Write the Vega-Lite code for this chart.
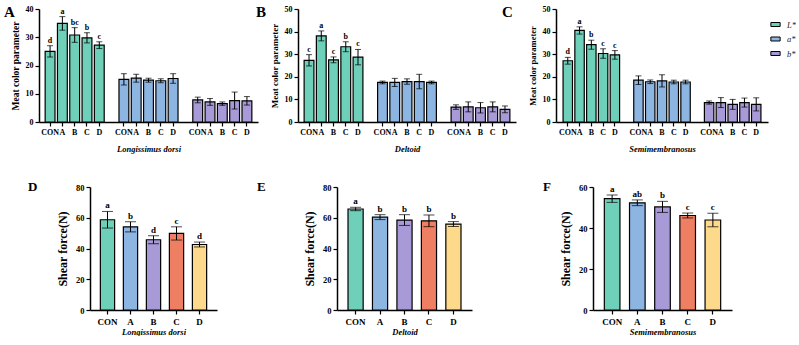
{
  "$schema": "https://vega.github.io/schema/vega-lite/v6.json",
  "background": "white",
  "padding": {"left": 4, "top": 5, "right": 0, "bottom": 0},
  "config": {
    "view": {"stroke": null},
    "font": "Liberation Serif",
    "axis": {
      "domainColor": "black", "domainWidth": 1.5,
      "tickColor": "black", "tickWidth": 1.2, "tickSize": 4,
      "labelFont": "Liberation Serif", "labelFontWeight": "bold", "labelColor": "black",
      "titleFont": "Liberation Serif", "titleFontWeight": "bold", "titleColor": "black",
      "grid": false
    },
    "title": {"font": "Liberation Serif", "fontWeight": "bold", "color": "black", "anchor": "start", "frame": "group", "offset": 0, "baseline": "alphabetic"}
  },
  "datasets": {
    "color": [
      {"muscle": "LD", "param": "L*", "trt": "CON", "mean": 25.0, "sd": 2.0, "sig": "d"},
      {"muscle": "LD", "param": "L*", "trt": "A", "mean": 34.9, "sd": 2.4, "sig": "a"},
      {"muscle": "LD", "param": "L*", "trt": "B", "mean": 30.8, "sd": 2.6, "sig": "bc"},
      {"muscle": "LD", "param": "L*", "trt": "C", "mean": 29.8, "sd": 1.8, "sig": "b"},
      {"muscle": "LD", "param": "L*", "trt": "D", "mean": 27.2, "sd": 1.2, "sig": "c"},
      {"muscle": "LD", "param": "a*", "trt": "CON", "mean": 15.1, "sd": 2.0, "sig": ""},
      {"muscle": "LD", "param": "a*", "trt": "A", "mean": 15.5, "sd": 1.4, "sig": ""},
      {"muscle": "LD", "param": "a*", "trt": "B", "mean": 14.8, "sd": 0.7, "sig": ""},
      {"muscle": "LD", "param": "a*", "trt": "C", "mean": 14.6, "sd": 0.7, "sig": ""},
      {"muscle": "LD", "param": "a*", "trt": "D", "mean": 15.4, "sd": 1.7, "sig": ""},
      {"muscle": "LD", "param": "b*", "trt": "CON", "mean": 7.8, "sd": 1.0, "sig": ""},
      {"muscle": "LD", "param": "b*", "trt": "A", "mean": 7.1, "sd": 1.2, "sig": ""},
      {"muscle": "LD", "param": "b*", "trt": "B", "mean": 6.5, "sd": 0.6, "sig": ""},
      {"muscle": "LD", "param": "b*", "trt": "C", "mean": 7.6, "sd": 3.0, "sig": ""},
      {"muscle": "LD", "param": "b*", "trt": "D", "mean": 7.5, "sd": 1.5, "sig": ""},
      {"muscle": "DE", "param": "L*", "trt": "CON", "mean": 27.3, "sd": 2.5, "sig": "c"},
      {"muscle": "DE", "param": "L*", "trt": "A", "mean": 38.1, "sd": 2.2, "sig": "a"},
      {"muscle": "DE", "param": "L*", "trt": "B", "mean": 27.5, "sd": 1.3, "sig": "c"},
      {"muscle": "DE", "param": "L*", "trt": "C", "mean": 33.3, "sd": 2.2, "sig": "b"},
      {"muscle": "DE", "param": "L*", "trt": "D", "mean": 28.7, "sd": 3.4, "sig": "c"},
      {"muscle": "DE", "param": "a*", "trt": "CON", "mean": 17.5, "sd": 0.6, "sig": ""},
      {"muscle": "DE", "param": "a*", "trt": "A", "mean": 17.5, "sd": 1.8, "sig": ""},
      {"muscle": "DE", "param": "a*", "trt": "B", "mean": 17.9, "sd": 1.2, "sig": ""},
      {"muscle": "DE", "param": "a*", "trt": "C", "mean": 17.9, "sd": 3.2, "sig": ""},
      {"muscle": "DE", "param": "a*", "trt": "D", "mean": 17.5, "sd": 0.6, "sig": ""},
      {"muscle": "DE", "param": "b*", "trt": "CON", "mean": 6.6, "sd": 1.0, "sig": ""},
      {"muscle": "DE", "param": "b*", "trt": "A", "mean": 6.7, "sd": 2.2, "sig": ""},
      {"muscle": "DE", "param": "b*", "trt": "B", "mean": 6.3, "sd": 2.3, "sig": ""},
      {"muscle": "DE", "param": "b*", "trt": "C", "mean": 6.7, "sd": 2.2, "sig": ""},
      {"muscle": "DE", "param": "b*", "trt": "D", "mean": 5.6, "sd": 1.5, "sig": ""},
      {"muscle": "SM", "param": "L*", "trt": "CON", "mean": 27.1, "sd": 1.5, "sig": "d"},
      {"muscle": "SM", "param": "L*", "trt": "A", "mean": 40.5, "sd": 1.6, "sig": "a"},
      {"muscle": "SM", "param": "L*", "trt": "B", "mean": 34.2, "sd": 2.0, "sig": "b"},
      {"muscle": "SM", "param": "L*", "trt": "C", "mean": 30.3, "sd": 2.1, "sig": "c"},
      {"muscle": "SM", "param": "L*", "trt": "D", "mean": 29.7, "sd": 1.9, "sig": "c"},
      {"muscle": "SM", "param": "a*", "trt": "CON", "mean": 18.5, "sd": 1.9, "sig": ""},
      {"muscle": "SM", "param": "a*", "trt": "A", "mean": 17.8, "sd": 0.8, "sig": ""},
      {"muscle": "SM", "param": "a*", "trt": "B", "mean": 18.2, "sd": 2.7, "sig": ""},
      {"muscle": "SM", "param": "a*", "trt": "C", "mean": 17.7, "sd": 0.8, "sig": ""},
      {"muscle": "SM", "param": "a*", "trt": "D", "mean": 17.7, "sd": 0.8, "sig": ""},
      {"muscle": "SM", "param": "b*", "trt": "CON", "mean": 8.6, "sd": 0.7, "sig": ""},
      {"muscle": "SM", "param": "b*", "trt": "A", "mean": 8.6, "sd": 2.2, "sig": ""},
      {"muscle": "SM", "param": "b*", "trt": "B", "mean": 7.8, "sd": 2.2, "sig": ""},
      {"muscle": "SM", "param": "b*", "trt": "C", "mean": 8.6, "sd": 2.0, "sig": ""},
      {"muscle": "SM", "param": "b*", "trt": "D", "mean": 7.8, "sd": 2.9, "sig": ""}
    ],
    "shear": [
      {"muscle": "LD", "trt": "CON", "mean": 58.7, "sd": 5.4, "sig": "a"},
      {"muscle": "LD", "trt": "A", "mean": 54.1, "sd": 3.3, "sig": "b"},
      {"muscle": "LD", "trt": "B", "mean": 45.7, "sd": 2.6, "sig": "d"},
      {"muscle": "LD", "trt": "C", "mean": 49.8, "sd": 4.3, "sig": "c"},
      {"muscle": "LD", "trt": "D", "mean": 42.6, "sd": 1.6, "sig": "d"},
      {"muscle": "DE", "trt": "CON", "mean": 65.7, "sd": 1.1, "sig": "a"},
      {"muscle": "DE", "trt": "A", "mean": 60.4, "sd": 1.6, "sig": "b"},
      {"muscle": "DE", "trt": "B", "mean": 58.5, "sd": 3.5, "sig": "b"},
      {"muscle": "DE", "trt": "C", "mean": 58.0, "sd": 3.8, "sig": "b"},
      {"muscle": "DE", "trt": "D", "mean": 55.9, "sd": 1.6, "sig": "b"},
      {"muscle": "SM", "trt": "CON", "mean": 54.3, "sd": 1.8, "sig": "a"},
      {"muscle": "SM", "trt": "A", "mean": 52.3, "sd": 1.4, "sig": "ab"},
      {"muscle": "SM", "trt": "B", "mean": 50.3, "sd": 2.7, "sig": "b"},
      {"muscle": "SM", "trt": "C", "mean": 46.1, "sd": 1.2, "sig": "c"},
      {"muscle": "SM", "trt": "D", "mean": 43.9, "sd": 3.3, "sig": "c"}
    ]
  },
  "columns": 1,
  "spacing": 28,
  "concat": [
    {
      "hconcat": [
        {
          "title": {"text": "A", "fontSize": 15, "dx": -35, "dy": 19},
          "width": 219, "height": 113,
          "data": {"name": "color"},
          "transform": [
            {"filter": "datum.muscle === 'LD'"},
            {"calculate": "datum.param + '|' + datum.trt", "as": "slot"},
            {"calculate": "datum.mean + datum.sd", "as": "top"}
          ],
          "encoding": {
            "x": {"field": "slot", "type": "nominal",
              "scale": {"domain": ["L*|CON", "L*|A", "L*|B", "L*|C", "L*|D", "gap1", "a*|CON", "a*|A", "a*|B", "a*|C", "a*|D", "gap2", "b*|CON", "b*|A", "b*|B", "b*|C", "b*|D"], "paddingInner": 0.2, "paddingOuter": 0.5},
              "axis": {"title": "Longissimus dorsi", "titleFontStyle": "italic", "titleFontSize": 8.5, "titlePadding": 8,
                "labelExpr": "indexof(datum.value, '|') > 0 ? split(datum.value, '|')[1] : ''",
                "labelAngle": 0, "labelFontSize": 8, "labelPadding": 2,
                "tickOpacity": {"condition": {"test": "indexof(datum.value, '|') < 0", "value": 0}, "value": 1}}},
            "y": {"field": "mean", "type": "quantitative", "title": "Meat color parameter", "scale": {"domain": [0, 40]},
              "axis": {"values": [0, 10, 20, 30, 40], "labelFontSize": 8, "labelPadding": 2, "titleFontSize": 9.5, "titlePadding": 5}}
          },
          "layer": [
            {"mark": {"type": "bar", "stroke": "black", "strokeWidth": 1.2},
             "encoding": {
               "fill": {"field": "param", "type": "nominal", "scale": {"domain": ["L*", "a*", "b*"], "range": ["#6FD0B9", "#8DB5E1", "#A899D7"]}, "legend": null}
             }},
            {"mark": {"type": "errorbar", "ticks": {"size": 6}, "thickness": 1, "color": "black"},
             "encoding": {"yError": {"field": "sd"}}},
            {"transform": [{"filter": "datum.sig !== ''"}],
             "mark": {"type": "text", "font": "Liberation Serif", "fontWeight": "bold", "fontSize": 8, "baseline": "bottom", "dy": -1, "color": "black"},
             "encoding": {"y": {"field": "top", "type": "quantitative", "title": "Meat color parameter",
               "axis": {"values": [0, 10, 20, 30, 40], "labelFontSize": 8, "labelPadding": 2, "titleFontSize": 9.5, "titlePadding": 5}},
               "text": {"field": "sig"}}}
          ]
        },
        {
          "title": {"text": "B", "fontSize": 15, "dx": -42, "dy": 19},
          "width": 218, "height": 113,
          "data": {"name": "color"},
          "transform": [
            {"filter": "datum.muscle === 'DE'"},
            {"calculate": "datum.param + '|' + datum.trt", "as": "slot"},
            {"calculate": "datum.mean + datum.sd", "as": "top"}
          ],
          "encoding": {
            "x": {"field": "slot", "type": "nominal",
              "scale": {"domain": ["L*|CON", "L*|A", "L*|B", "L*|C", "L*|D", "gap1", "a*|CON", "a*|A", "a*|B", "a*|C", "a*|D", "gap2", "b*|CON", "b*|A", "b*|B", "b*|C", "b*|D"], "paddingInner": 0.2, "paddingOuter": 0.5},
              "axis": {"title": "Deltoid", "titleFontStyle": "italic", "titleFontSize": 8.5, "titlePadding": 8,
                "labelExpr": "indexof(datum.value, '|') > 0 ? split(datum.value, '|')[1] : ''",
                "labelAngle": 0, "labelFontSize": 8, "labelPadding": 2,
                "tickOpacity": {"condition": {"test": "indexof(datum.value, '|') < 0", "value": 0}, "value": 1}}},
            "y": {"field": "mean", "type": "quantitative", "title": "Meat color parameter", "scale": {"domain": [0, 50]},
              "axis": {"values": [0, 10, 20, 30, 40, 50], "labelFontSize": 8, "labelPadding": 2, "titleFontSize": 9, "titlePadding": 5}}
          },
          "layer": [
            {"mark": {"type": "bar", "stroke": "black", "strokeWidth": 1.2},
             "encoding": {
               "fill": {"field": "param", "type": "nominal", "scale": {"domain": ["L*", "a*", "b*"], "range": ["#6FD0B9", "#8DB5E1", "#A899D7"]}, "legend": null}
             }},
            {"mark": {"type": "errorbar", "ticks": {"size": 6}, "thickness": 1, "color": "black"},
             "encoding": {"yError": {"field": "sd"}}},
            {"transform": [{"filter": "datum.sig !== ''"}],
             "mark": {"type": "text", "font": "Liberation Serif", "fontWeight": "bold", "fontSize": 8, "baseline": "bottom", "dy": -1, "color": "black"},
             "encoding": {"y": {"field": "top", "type": "quantitative", "title": "Meat color parameter",
               "axis": {"values": [0, 10, 20, 30, 40, 50], "labelFontSize": 8, "labelPadding": 2, "titleFontSize": 9, "titlePadding": 5}},
               "text": {"field": "sig"}}}
          ]
        },
        {
          "title": {"text": "C", "fontSize": 15, "dx": -54, "dy": 19},
          "width": 212, "height": 113,
          "data": {"name": "color"},
          "transform": [
            {"filter": "datum.muscle === 'SM'"},
            {"calculate": "datum.param + '|' + datum.trt", "as": "slot"},
            {"calculate": "datum.mean + datum.sd", "as": "top"}
          ],
          "encoding": {
            "x": {"field": "slot", "type": "nominal",
              "scale": {"domain": ["L*|CON", "L*|A", "L*|B", "L*|C", "L*|D", "gap1", "a*|CON", "a*|A", "a*|B", "a*|C", "a*|D", "gap2", "b*|CON", "b*|A", "b*|B", "b*|C", "b*|D"], "paddingInner": 0.2, "paddingOuter": 0.6},
              "axis": {"title": "Semimembranosus", "titleFontStyle": "italic", "titleFontSize": 8.5, "titlePadding": 8,
                "labelExpr": "indexof(datum.value, '|') > 0 ? split(datum.value, '|')[1] : ''",
                "labelAngle": 0, "labelFontSize": 8, "labelPadding": 2,
                "tickOpacity": {"condition": {"test": "indexof(datum.value, '|') < 0", "value": 0}, "value": 1}}},
            "y": {"field": "mean", "type": "quantitative", "title": "Meat color parameter", "scale": {"domain": [0, 50]},
              "axis": {"values": [0, 10, 20, 30, 40, 50], "labelFontSize": 8, "labelPadding": 2, "titleFontSize": 8.5, "titlePadding": 5}}
          },
          "layer": [
            {"mark": {"type": "bar", "stroke": "black", "strokeWidth": 1.2},
             "encoding": {
               "fill": {"field": "param", "type": "nominal", "scale": {"domain": ["L*", "a*", "b*"], "range": ["#6FD0B9", "#8DB5E1", "#A899D7"]},
                 "legend": {"orient": "none", "legendX": 214, "legendY": 10, "title": null,
                   "symbolType": "M-1,-0.43H1V0.43H-1Z", "symbolSize": 86, "symbolStrokeColor": "black", "symbolStrokeWidth": 1,
                   "labelFont": "Liberation Serif", "labelFontStyle": "italic", "labelFontSize": 8.5, "labelColor": "#222222", "labelOffset": 6, "rowPadding": 4.5}}
             }},
            {"mark": {"type": "errorbar", "ticks": {"size": 6}, "thickness": 1, "color": "black"},
             "encoding": {"yError": {"field": "sd"}}},
            {"transform": [{"filter": "datum.sig !== ''"}],
             "mark": {"type": "text", "font": "Liberation Serif", "fontWeight": "bold", "fontSize": 8, "baseline": "bottom", "dy": -1, "color": "black"},
             "encoding": {"y": {"field": "top", "type": "quantitative", "title": "Meat color parameter",
               "axis": {"values": [0, 10, 20, 30, 40, 50], "labelFontSize": 8, "labelPadding": 2, "titleFontSize": 8.5, "titlePadding": 5}},
               "text": {"field": "sig"}}}
          ]
        }
      ],
      "spacing": 40,
      "bounds": "flush",
      "resolve": {"scale": {"x": "independent", "y": "independent", "fill": "independent"}}
    },
    {
      "hconcat": [
        {
          "width": 1, "height": 1,
          "data": {"values": []},
          "mark": {"type": "point", "opacity": 0}
        },
        {
          "hconcat": [
            {
              "title": {"text": "D", "fontSize": 13, "dx": -62, "dy": 15},
              "width": 127, "height": 123,
              "data": {"name": "shear"},
              "transform": [
                {"filter": "datum.muscle === 'LD'"},
                {"calculate": "datum.mean + datum.sd", "as": "top"}
              ],
              "encoding": {
                "x": {"field": "trt", "type": "nominal", "sort": ["CON", "A", "B", "C", "D"],
                  "scale": {"paddingInner": 0.38, "paddingOuter": 0.45},
                  "axis": {"title": "Longissimus dorsi", "titleFontStyle": "italic", "titleFontSize": 8.5, "titlePadding": 1,
                    "labelAngle": 0, "labelFontSize": 9, "labelPadding": 3}},
                "y": {"field": "mean", "type": "quantitative", "title": "Shear force(N)", "scale": {"domain": [0, 80]},
                  "axis": {"values": [0, 20, 40, 60, 80], "labelFontSize": 8.5, "labelPadding": 2, "titleFontSize": 12, "titlePadding": 6}}
              },
              "layer": [
                {"mark": {"type": "bar", "stroke": "black", "strokeWidth": 1.2},
                 "encoding": {
                   "fill": {"field": "trt", "type": "nominal", "scale": {"domain": ["CON", "A", "B", "C", "D"], "range": ["#6FD0B9", "#8DB5E1", "#A899D7", "#EF7F63", "#FDD98B"]}, "legend": null}
                 }},
                {"mark": {"type": "errorbar", "ticks": {"size": 11}, "thickness": 1, "color": "black"},
                 "encoding": {"yError": {"field": "sd"}}},
                {"mark": {"type": "text", "font": "Liberation Serif", "fontWeight": "bold", "fontSize": 9, "baseline": "bottom", "dy": -1, "color": "black"},
                 "encoding": {"y": {"field": "top", "type": "quantitative", "title": "Shear force(N)",
                   "axis": {"values": [0, 20, 40, 60, 80], "labelFontSize": 8.5, "labelPadding": 2, "titleFontSize": 12, "titlePadding": 6}},
                   "text": {"field": "sig"}}}
              ]
            },
            {
              "hconcat": [
                {
                  "title": {"text": "E", "fontSize": 13, "dx": -80, "dy": 15},
                  "width": 135, "height": 123,
                  "data": {"name": "shear"},
                  "transform": [
                    {"filter": "datum.muscle === 'DE'"},
                    {"calculate": "datum.mean + datum.sd", "as": "top"}
                  ],
                  "encoding": {
                    "x": {"field": "trt", "type": "nominal", "sort": ["CON", "A", "B", "C", "D"],
                      "scale": {"paddingInner": 0.38, "paddingOuter": 0.45},
                      "axis": {"title": "Deltoid", "titleFontStyle": "italic", "titleFontSize": 8.5, "titlePadding": 1,
                        "labelAngle": 0, "labelFontSize": 9, "labelPadding": 3}},
                    "y": {"field": "mean", "type": "quantitative", "title": "Shear force(N)", "scale": {"domain": [0, 80]},
                      "axis": {"values": [0, 20, 40, 60, 80], "labelFontSize": 8.5, "labelPadding": 2, "titleFontSize": 12, "titlePadding": 6}}
                  },
                  "layer": [
                    {"mark": {"type": "bar", "stroke": "black", "strokeWidth": 1.2},
                     "encoding": {
                       "fill": {"field": "trt", "type": "nominal", "scale": {"domain": ["CON", "A", "B", "C", "D"], "range": ["#6FD0B9", "#8DB5E1", "#A899D7", "#EF7F63", "#FDD98B"]}, "legend": null}
                     }},
                    {"mark": {"type": "errorbar", "ticks": {"size": 11}, "thickness": 1, "color": "black"},
                     "encoding": {"yError": {"field": "sd"}}},
                    {"mark": {"type": "text", "font": "Liberation Serif", "fontWeight": "bold", "fontSize": 9, "baseline": "bottom", "dy": -1, "color": "black"},
                     "encoding": {"y": {"field": "top", "type": "quantitative", "title": "Shear force(N)",
                       "axis": {"values": [0, 20, 40, 60, 80], "labelFontSize": 8.5, "labelPadding": 2, "titleFontSize": 12, "titlePadding": 6}},
                       "text": {"field": "sig"}}}
                  ]
                },
                {
                  "title": {"text": "F", "fontSize": 13, "dx": -50, "dy": 15},
                  "width": 139, "height": 123,
                  "data": {"name": "shear"},
                  "transform": [
                    {"filter": "datum.muscle === 'SM'"},
                    {"calculate": "datum.mean + datum.sd", "as": "top"}
                  ],
                  "encoding": {
                    "x": {"field": "trt", "type": "nominal", "sort": ["CON", "A", "B", "C", "D"],
                      "scale": {"paddingInner": 0.38, "paddingOuter": 0.45},
                      "axis": {"title": "Semimembranosus", "titleFontStyle": "italic", "titleFontSize": 8.5, "titlePadding": 1,
                        "labelAngle": 0, "labelFontSize": 9, "labelPadding": 3}},
                    "y": {"field": "mean", "type": "quantitative", "title": "Shear force(N)", "scale": {"domain": [0, 60]},
                      "axis": {"values": [0, 20, 40, 60], "labelFontSize": 8.5, "labelPadding": 2, "titleFontSize": 12, "titlePadding": 6}}
                  },
                  "layer": [
                    {"mark": {"type": "bar", "stroke": "black", "strokeWidth": 1.2},
                     "encoding": {
                       "fill": {"field": "trt", "type": "nominal", "scale": {"domain": ["CON", "A", "B", "C", "D"], "range": ["#6FD0B9", "#8DB5E1", "#A899D7", "#EF7F63", "#FDD98B"]}, "legend": null}
                     }},
                    {"mark": {"type": "errorbar", "ticks": {"size": 11}, "thickness": 1, "color": "black"},
                     "encoding": {"yError": {"field": "sd"}}},
                    {"mark": {"type": "text", "font": "Liberation Serif", "fontWeight": "bold", "fontSize": 9, "baseline": "bottom", "dy": -1, "color": "black"},
                     "encoding": {"y": {"field": "top", "type": "quantitative", "title": "Shear force(N)",
                       "axis": {"values": [0, 20, 40, 60], "labelFontSize": 8.5, "labelPadding": 2, "titleFontSize": 12, "titlePadding": 6}},
                       "text": {"field": "sig"}}}
                  ]
                }
              ],
              "spacing": 121,
              "bounds": "flush",
              "resolve": {"scale": {"x": "independent", "y": "independent", "fill": "independent"}}
            }
          ],
          "spacing": 40,
          "resolve": {"scale": {"x": "independent", "y": "independent", "fill": "independent"}}
        }
      ],
      "spacing": 50,
      "bounds": "flush",
      "resolve": {"scale": {"x": "independent", "y": "independent", "fill": "independent"}}
    }
  ]
}
